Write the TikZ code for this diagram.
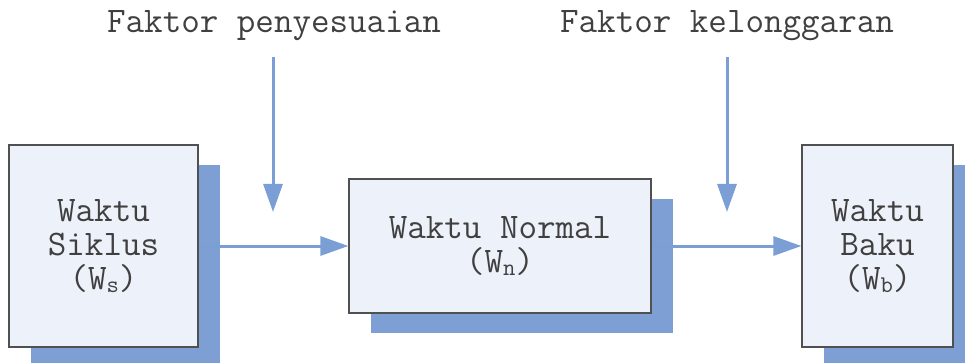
\documentclass[tikz,border=0pt]{standalone}
\usepackage{fontspec}
\usetikzlibrary{arrows.meta,shadows}
\definecolor{arrowblue}{HTML}{7B9FD5}
\definecolor{shadowblue}{HTML}{7E9FD3}
\definecolor{boxfill}{HTML}{EDF1F9}
\definecolor{boxline}{HTML}{505050}
\definecolor{txtgray}{HTML}{404040}
\newcommand{\sbs}[1]{\raisebox{-3pt}{\fontsize{24}{24}\selectfont #1}}
\tikzset{
  mainbox/.style={draw=boxline, line width=1.2pt, fill=boxfill, inner sep=0pt,
    align=center, text=txtgray, font=\ttfamily\fontsize{36}{34}\selectfont,
    drop shadow={shadow xshift=22pt, shadow yshift=-20pt, fill=shadowblue, opacity=1}},
  toplabel/.style={anchor=base, text=txtgray, inner sep=0pt,
    font=\ttfamily\fontsize{36}{34}\selectfont},
  flow/.style={draw=arrowblue, line width=3pt, -{Triangle[length=28pt,width=19pt]}}
}
\begin{document}
\begin{tikzpicture}[x=1pt,y=-1pt]
\useasboundingbox (0,0) rectangle (965,363);
\node[mainbox, minimum width=189pt, minimum height=202pt] (b1) at (103.5,246) {Waktu\\Siklus\\(W\sbs{s})};
\node[mainbox, minimum width=302pt, minimum height=134pt] (b2) at (500,246) {Waktu Normal\\(W\sbs{n})};
\node[mainbox, minimum width=151pt, minimum height=202pt] (b3) at (877.5,246) {Waktu\\Baku\\(W\sbs{b})};
\node[toplabel] (t1) at (274,33) {Faktor penyesuaian};
\node[toplabel] (t2) at (727,33) {Faktor kelonggaran};
\coordinate (a1s) at (273,57);
\coordinate (a1e) at (273,212);
\coordinate (a2s) at (727,57);
\coordinate (a2e) at (727,212);
\draw[flow] (a1s) -- (a1e);
\draw[flow] (a2s) -- (a2e);
\draw[flow] (b1.east) -- (b2.west);
\draw[flow] (b2.east) -- (b3.west);
\end{tikzpicture}
\end{document}
